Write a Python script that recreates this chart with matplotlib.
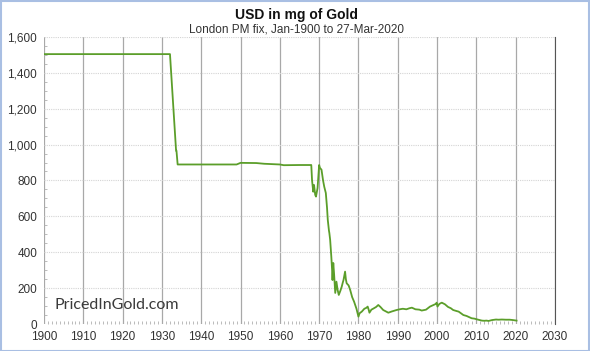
import matplotlib.pyplot as plt
from matplotlib.ticker import FuncFormatter, MultipleLocator
from matplotlib.patches import Rectangle

plt.rcParams['font.family'] = ['Liberation Sans', 'DejaVu Sans']

# USD value expressed in milligrams of gold (London PM fix)
years = [1900.0, 1932.05, 1933.6, 1933.7, 1934.0, 1949.0, 1950.0, 1954.0,
         1956.0, 1960.0, 1961.0, 1965.0, 1968.0, 1968.2, 1968.5, 1968.7, 1969.0,
         1969.2, 1969.6, 1970.0, 1970.2, 1970.6, 1971.0, 1971.3, 1971.7, 1972.0,
         1972.2, 1972.5, 1972.6, 1972.8, 1973.1, 1973.3, 1973.4, 1973.6, 1973.8,
         1974.1, 1974.4, 1974.7, 1975.0, 1975.4, 1975.75, 1976.0, 1976.2, 1976.6,
         1976.8, 1977.0, 1977.5, 1977.9, 1978.4, 1978.9, 1979.5, 1980.0, 1980.3,
         1980.85, 1981.5, 1982.0, 1982.35, 1982.6, 1982.8, 1983.3, 1983.8, 1984.5,
         1985.05, 1985.6, 1986.3, 1987.0, 1987.6, 1988.5, 1989.7, 1990.5, 1991.3,
         1992.2, 1993.0, 1993.6, 1994.5, 1995.5, 1996.1, 1997.2, 1998.2, 1999.0,
         1999.7, 1999.9, 2000.1, 2000.6, 2001.2, 2002.0, 2002.8, 2003.5, 2004.1,
         2005.0, 2005.5, 2006.2, 2006.7, 2007.5, 2008.2, 2008.8, 2009.5, 2010.3,
         2011.4, 2012.0, 2012.6, 2013.1, 2014.0, 2015.0, 2015.6, 2016.5, 2017.5,
         2018.5, 2019.3, 2020.23]
mg_gold = [1504, 1504, 966, 966, 889, 889, 898, 897,
           893, 889, 885, 886, 886, 800, 737, 775, 720,
           710, 758, 886, 870, 860, 800, 765, 730, 650,
           580, 520, 507, 470, 375, 300, 245, 340, 280,
           173, 236, 190, 162, 185, 208, 230, 245, 292,
           250, 227, 215, 190, 150, 124, 85, 41, 60,
           69, 85, 90, 97, 80, 63, 80, 86, 95,
           106, 95, 78, 70, 63, 70, 78, 82, 85,
           82, 88, 91, 82, 80, 75, 80, 97, 105,
           112, 119, 97, 112, 119, 110, 95, 88, 78,
           72, 69, 58, 50, 45, 38, 32, 30, 25,
           19, 18, 19, 17, 22, 25, 24, 25, 24,
           24, 22, 19]

x_ticks = list(range(1900, 2031, 10))
y_ticks = list(range(0, 1601, 200))

fig = plt.figure(figsize=(5.9, 3.51), dpi=100)
ax = fig.add_axes([0.0746, 0.0769, 0.866, 0.818])

ax.plot(years, mg_gold, color="#5b9e2a", linewidth=1.3)

ax.set_xlim(1900, 2030)
ax.set_ylim(0, 1600)
ax.set_xticks(x_ticks)
ax.set_yticks(y_ticks)
ax.xaxis.set_minor_locator(MultipleLocator(1))
ax.yaxis.set_minor_locator(MultipleLocator(50))
ax.yaxis.set_major_formatter(FuncFormatter(lambda v, p: f"{int(v):,}"))

ax.grid(axis="x", which="major", color="#a8a8a8", linewidth=0.9)
ax.grid(axis="y", which="major", color="#d4d4d4", linewidth=0.8, linestyle=(0, (1, 1)))
ax.tick_params(axis="both", which="major", length=0, labelsize=8.5, colors="#333333", pad=5)
ax.tick_params(axis="both", which="minor", length=2, color="#b0b0b0", direction="in")
for side in ["top", "left", "bottom"]:
    ax.spines[side].set_visible(False)
ax.spines["right"].set_color("#555555")

fig.text(0.502, 0.957, "USD in mg of Gold", ha="center", va="center",
         fontsize=10, fontweight="bold", color="#111111")
fig.text(0.502, 0.915, "London PM fix, Jan-1900 to 27-Mar-2020", ha="center", va="center",
         fontsize=8.5, color="#333333")
ax.text(0.021, 0.065, "PricedInGold.com", transform=ax.transAxes, fontsize=11.5,
        family="Lato", fontweight="normal", color="#3a3a3a", va="center", zorder=5)

fig.patches.append(Rectangle((0.001, 0.001), 0.997, 0.996, transform=fig.transFigure,
                             fill=False, edgecolor="#a9bfe3", linewidth=1.5))

fig.savefig("out.png", dpi=100)
